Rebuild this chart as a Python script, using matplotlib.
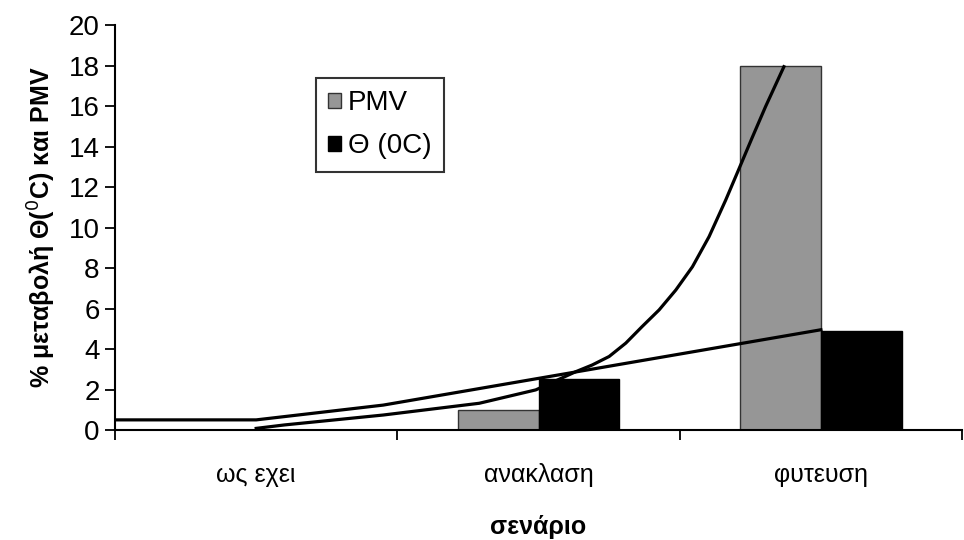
import matplotlib
matplotlib.use("Agg")
import matplotlib.pyplot as plt

plt.rcParams['font.family'] = ['Liberation Sans', 'DejaVu Sans']

#σενάρια και μεταβολές (%)
senaria = ['ως εχει', 'ανακλαση', 'φυτευση']
pmv = [0.0, 1.0, 18.0]
theta = [0.0, 2.5, 4.9]

#γραμμές τάσης (θέση σεναρίου, τιμή)
pmv_trend_x = [0.0, 0.1, 0.45, 0.79, 0.99, 1.132, 1.19, 1.25, 1.309, 1.367, 1.427,
               1.486, 1.545, 1.604, 1.663, 1.71, 1.757, 1.804, 1.869]
pmv_trend_y = [0.08, 0.25, 0.74, 1.32, 1.98, 2.88, 3.21, 3.63, 4.29, 5.11, 5.93,
               6.91, 8.06, 9.55, 11.36, 12.9, 14.45, 15.97, 17.94]
theta_trend_x = [-0.5, 0.0, 0.45, 1.0, 2.0]
theta_trend_y = [0.5, 0.5, 1.23, 2.55, 4.95]

fig = plt.figure(figsize=(9.64, 5.4), dpi=100)
ax = fig.add_axes([0.1193, 0.2037, 0.8787, 0.75])

#ράβδοι: κενό 150% ανάμεσα στις ομάδες
w = 1 / 3.5
x = range(len(senaria))
ax.bar([i - w / 2 for i in x], pmv, width=w, color='#969696', edgecolor='#333333', linewidth=1, label='PMV', zorder=2)
ax.bar([i + w / 2 for i in x], theta, width=w, color='black', edgecolor='black', linewidth=1, label='Θ (0C)', zorder=2)

ax.plot(theta_trend_x, theta_trend_y, color='black', lw=2.3, zorder=3, solid_joinstyle='round')
ax.plot(pmv_trend_x, pmv_trend_y, color='black', lw=2.3, zorder=3, solid_joinstyle='round')

ax.set_xlim(-0.5, 2.5)
ax.set_ylim(0, 20)
ax.set_yticks(range(0, 21, 2))
ax.tick_params(axis='y', direction='out', length=7, width=1.3, labelsize=20, pad=4)

#διαχωριστικά ticks στα όρια των κατηγοριών, ετικέτες στο κέντρο
ax.set_xticks([-0.5, 0.5, 1.5, 2.5])
ax.set_xticklabels([])
ax.tick_params(axis='x', which='major', direction='out', length=7, width=1.3)
ax.set_xticks(list(x), minor=True)
ax.set_xticklabels(senaria, minor=True)
ax.tick_params(axis='x', which='minor', length=0, labelsize=18, pad=24)

for s in ['top', 'right']:
    ax.spines[s].set_visible(False)
for s in ['left', 'bottom']:
    ax.spines[s].set_linewidth(1.5)

ax.set_xlabel('σενάριο', fontsize=18, fontweight='bold', labelpad=20)
ax.set_ylabel('% μεταβολή Θ($^{0}$C) και PMV', fontsize=18, fontweight='bold', labelpad=8)

leg = ax.legend(loc='upper left', bbox_to_anchor=(0.3278, 0.8556), bbox_transform=fig.transFigure,
                borderaxespad=0, fontsize=20, frameon=True, fancybox=False,
                handlelength=0.45, handleheight=0.45, handletextpad=0.25, labelspacing=0.6, borderpad=0.45)
leg.get_frame().set_edgecolor('black')
leg.get_frame().set_linewidth(1.5)

fig.savefig('out.png', dpi=100)
